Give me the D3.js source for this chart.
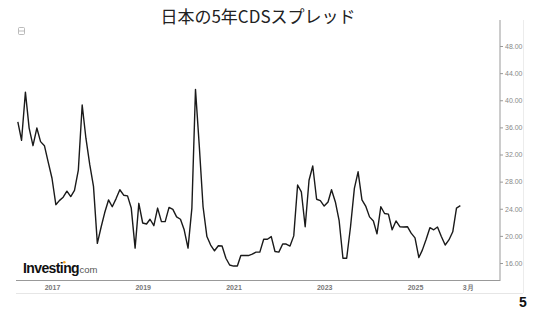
<!DOCTYPE html>
<html><head><meta charset="utf-8">
<script src="https://cdn.jsdelivr.net/npm/d3@7"></script>
<style>
html,body{margin:0;padding:0;background:#fff;}
svg{display:block;}
</style></head>
<body>
<svg id="c" width="535" height="313"></svg>
<script>
const title = "日本の5年CDSスプレッド";
const startMonth = "2016-04-01";
const values = [36.8,34.1,41.2,35.9,33.3,35.9,33.9,33.3,30.9,28.5,24.6,25.2,25.7,26.6,25.8,26.7,29.7,39.3,34.4,30.5,
27.3,18.9,21.35,23.4,25.3,24.3,25.5,26.8,26.0,25.9,24.1,18.2,24.8,21.9,21.75,22.45,21.5,24.1,22.1,22.1,
24.2,23.9,22.8,22.45,20.9,18.2,24.1,41.6,33.15,24.3,19.9,18.65,17.8,18.55,18.5,16.7,15.7,15.55,15.55,17.1,
17.1,17.1,17.3,17.6,17.6,19.5,19.5,19.9,17.7,17.6,18.8,18.8,18.5,20.0,27.5,26.5,21.35,28.2,30.3,25.4,
25.2,24.4,25.0,26.8,25.0,22.3,16.7,16.7,21.35,27.0,29.45,25.3,24.4,22.8,22.2,20.3,24.3,23.3,23.2,20.9,
22.2,21.35,21.3,21.35,20.4,19.7,16.8,17.9,19.5,21.2,20.9,21.3,19.9,18.65,19.4,20.6,24.1,24.45];
const yTicks = [16,20,24,28,32,36,40,44,48];
const xTickDates = ["2017-01-01","2019-01-01","2021-01-01","2023-01-01","2025-01-01","2026-03-01"];
const xTickLabels = ["2017","2019","2021","2023","2025","3月"];

const start = new Date(startMonth + "T00:00:00");
const dates = values.map((v,i)=>d3.timeMonth.offset(start,i));
const data = values.map((v,i)=>({d:dates[i], v}));

const svg = d3.select("#c");
const x = d3.scaleTime()
  .domain([new Date("2017-01-01T00:00:00"), new Date("2025-01-01T00:00:00")])
  .range([52, 415]);
const y = d3.scaleLinear().domain([16,48]).range([263,46]);

// outer light frame
svg.append("line").attr("x1",16).attr("x2",523).attr("y1",293.5).attr("y2",293.5).attr("stroke","#e6e6e6");
svg.append("line").attr("x1",523.5).attr("x2",523.5).attr("y1",20).attr("y2",293).attr("stroke","#ececec");

// title
svg.append("text").attr("x",258).attr("y",23).attr("text-anchor","middle")
  .attr("font-family","'Noto Sans CJK JP', sans-serif").attr("font-size",17).attr("fill","#222").text(title);

// icon
const ic = svg.append("g").attr("transform","translate(18,27)");
ic.append("rect").attr("x",0.5).attr("y",0.5).attr("width",6).attr("height",7).attr("rx",1).attr("fill","none").attr("stroke","#aaa").attr("stroke-width",0.8);
ic.append("line").attr("x1",1).attr("x2",6.5).attr("y1",4).attr("y2",4).attr("stroke","#aaa").attr("stroke-width",0.8);

// y axis
const yAxis = d3.axisRight(y).tickValues(yTicks).tickFormat(d3.format(".2f")).tickSize(3).tickPadding(2);
const gy = svg.append("g").attr("transform","translate(500,0)").call(yAxis);
gy.select(".domain").remove();
gy.selectAll(".tick line").attr("stroke","#999");
gy.selectAll(".tick text").attr("fill","#888").attr("font-family","Arial, 'Liberation Sans', sans-serif").attr("font-size",7);
svg.append("line").attr("x1",500).attr("x2",500).attr("y1",20).attr("y2",281).attr("stroke","#999").attr("stroke-width",1);

// x axis
const xAxis = d3.axisBottom(x).tickValues(xTickDates.map(s=>new Date(s+"T00:00:00")))
  .tickFormat((d,i)=>xTickLabels[i]).tickSize(0).tickPadding(5);
const gx = svg.append("g").attr("transform","translate(0,280)").call(xAxis);
gx.select(".domain").remove();
gx.selectAll(".tick text").attr("fill","#777").attr("font-family","Arial, 'Liberation Sans', sans-serif").attr("font-size",7).attr("font-weight","bold");
svg.append("line").attr("x1",16).attr("x2",500).attr("y1",280.5).attr("y2",280.5).attr("stroke","#999");

// line
const line = d3.line().x(d=>x(d.d)).y(d=>y(d.v));
svg.append("path").datum(data).attr("d",line).attr("fill","none").attr("stroke","#1a1a1a").attr("stroke-width",1.4).attr("stroke-linejoin","round");

// logo
const logo = svg.append("text").attr("x",23).attr("y",273).attr("font-family","'Liberation Sans', Arial, sans-serif");
logo.append("tspan").attr("font-size",14).attr("font-weight","bold").attr("fill","#111").attr("letter-spacing",-0.6).text("Investing");
logo.append("tspan").attr("font-size",9.5).attr("fill","#555").attr("dx",0.5).text("com");
svg.append("circle").attr("cx",64.3).attr("cy",262.2).attr("r",1.3).attr("fill","#f5a623");

// page number
svg.append("text").attr("x",523).attr("y",307).attr("text-anchor","middle").attr("font-family","'Liberation Sans', Arial, sans-serif")
  .attr("font-size",14).attr("font-weight","bold").attr("fill","#111").text("5");
</script>
</body></html>
